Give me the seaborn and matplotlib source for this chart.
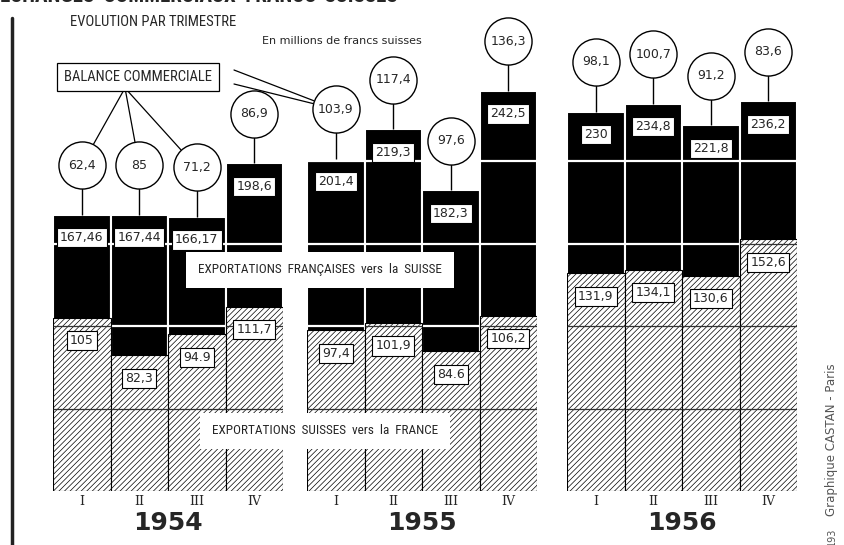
import numpy as np
import pandas as pd
import matplotlib
matplotlib.use("Agg")
import matplotlib.pyplot as plt
from matplotlib.lines import Line2D
from matplotlib import font_manager
import seaborn as sns

sns.set_style("white")
plt.rcParams['font.family'] = ['DejaVu Sans']
plt.rcParams['hatch.linewidth'] = 0.5
plt.rcParams['hatch.color'] = '#555555'

years = ['1954', '1955', '1956']
quarters = ['I', 'II', 'III', 'IV']

# exportations françaises vers la Suisse (millions de francs suisses)
fr_1954 = [167.46, 167.44, 166.17, 198.6]
fr_1955 = [201.4, 219.3, 182.3, 242.5]
fr_1956 = [230, 234.8, 221.8, 236.2]

# exportations suisses vers la France
ch_1954 = [105, 82.3, 94.9, 111.7]
ch_1955 = [97.4, 101.9, 84.6, 106.2]
ch_1956 = [131.9, 134.1, 130.6, 152.6]

# balance commerciale
bal_1954 = [62.4, 85, 71.2, 86.9]
bal_1955 = [103.9, 117.4, 97.6, 136.3]
bal_1956 = [98.1, 100.7, 91.2, 83.6]

fr_all = [fr_1954, fr_1955, fr_1956]
ch_all = [ch_1954, ch_1955, ch_1956]
bal_all = [bal_1954, bal_1955, bal_1956]

grid_levels = [50, 100, 150, 200, 250]

# narrowest font on hand for the capital headings
names = {f.name for f in font_manager.fontManager.ttflist}
narrow = 'DejaVu Sans'
for cand in ['Liberation Sans Narrow', 'Roboto Condensed', 'Open Sans Condensed', 'Roboto']:
    if cand in names:
        narrow = cand
        break


def fmt(v):
    if v in (94.9, 84.6):
        return f"{v:g}"
    return f"{v:g}".replace('.', ',')


W, H = 844, 545
fig = plt.figure(figsize=(W / 100, H / 100), dpi=100)

panel_left = [53, 307, 567]
panel_width = 230
base_px = 491
ymax = base_px / 1.65
circle_off = 30

axes = []
for k, year in enumerate(years):
    ax = fig.add_axes([panel_left[k] / W, (H - base_px) / H, panel_width / W, base_px / H])
    axes.append(ax)
    df = pd.DataFrame({'quarter': quarters, 'fr': fr_all[k], 'ch': ch_all[k], 'bal': bal_all[k]})

    sns.barplot(data=df, x='quarter', y='fr', color='black', saturation=1, width=1,
                edgecolor='white', linewidth=1.5, ax=ax)
    n_black = len(ax.patches)
    for lvl in grid_levels:
        ax.axhline(lvl, color='white', lw=1.6, zorder=1.5)

    sns.barplot(data=df, x='quarter', y='ch', color='white', saturation=1, width=1,
                edgecolor='black', linewidth=0.8, ax=ax)
    hatched = ax.patches[n_black:]
    for p in hatched:
        p.set_hatch('//////')
        p.set_zorder(2)

    black = ax.patches[:n_black]
    for i, (pb, ph) in enumerate(zip(black, hatched)):
        cx = pb.get_x() + pb.get_width() / 2
        x0, x1 = ph.get_x(), ph.get_x() + ph.get_width()
        for lvl in grid_levels:
            if lvl < df['ch'][i]:
                ax.hlines(lvl, x0, x1, color='#333333', lw=0.9, zorder=2.5)
        # value boxes
        box = dict(boxstyle='square,pad=0.25', fc='white', ec='black', lw=0.8)
        ax.text(cx, df['fr'][i] - 14, fmt(df['fr'][i]), ha='center', va='center',
                fontsize=9, bbox=box, zorder=5)
        ax.text(cx, df['ch'][i] - 14, fmt(df['ch'][i]), ha='center', va='center',
                fontsize=9, bbox=box, zorder=5)
        # balance circles
        cy = df['fr'][i] + circle_off
        ax.vlines(cx, df['fr'][i], cy, color='black', lw=1, zorder=3)
        ax.scatter([cx], [cy], s=1150, facecolor='white', edgecolor='black',
                   linewidth=1, zorder=6, clip_on=False)
        ax.text(cx, cy, fmt(df['bal'][i]), ha='center', va='center', fontsize=9, zorder=7)

    ax.set_xlim(-0.5, 3.5)
    ax.set_ylim(0, ymax)
    ax.set_xlabel('')
    ax.set_ylabel('')
    ax.set_yticks([])
    sns.despine(ax=ax, left=True, bottom=True)
    ax.tick_params(axis='x', length=0, pad=3)
    for lab in ax.get_xticklabels():
        lab.set_fontfamily('DejaVu Serif')
        lab.set_fontsize(9)
    ax.text(0.5, -0.066, year, transform=ax.transAxes, ha='center', va='center',
            fontsize=18, fontweight='bold')

# lines from the "BALANCE COMMERCIALE" box to the circles
ax1, ax2 = axes[0], axes[1]
for i, p in enumerate(ax1.patches[:3]):
    cx = p.get_x() + p.get_width() / 2
    ax1.annotate('', xy=(cx, fr_1954[i] + circle_off), xycoords='data',
                 xytext=(125 / W, 1 - 88 / H), textcoords='figure fraction',
                 arrowprops=dict(arrowstyle='-', color='black', lw=0.9, shrinkA=0, shrinkB=17))
p = ax2.patches[0]
cx = p.get_x() + p.get_width() / 2
for yy in (70, 84):
    ax2.annotate('', xy=(cx, fr_1955[0] + circle_off), xycoords='data',
                 xytext=(234 / W, 1 - yy / H), textcoords='figure fraction',
                 arrowprops=dict(arrowstyle='-', color='black', lw=0.9, shrinkA=0, shrinkB=17))

head = dict(family=narrow)
label_box = dict(boxstyle='square,pad=0.45', fc='white', ec='black', lw=0.9)
fig.text(138 / W, 1 - 77 / H, 'BALANCE COMMERCIALE', ha='center', va='center',
         fontsize=10.5, bbox=label_box, zorder=10, **head)
fig.text(320 / W, 1 - 270 / H, 'EXPORTATIONS  FRANÇAISES  vers  la  SUISSE', ha='center',
         va='center', fontsize=9.5, zorder=10,
         bbox=dict(boxstyle='square,pad=0.9', fc='white', ec='none'), **head)
fig.text(325 / W, 1 - 431 / H, 'EXPORTATIONS  SUISSES  vers  la  FRANCE', ha='center',
         va='center', fontsize=9.5, zorder=10,
         bbox=dict(boxstyle='square,pad=0.9', fc='white', ec='none'), **head)

# titles
fig.text(0.0, 1 + 4 / H, 'ECHANGES  COMMERCIAUX  FRANCO-SUISSES', ha='left', va='center',
         fontsize=15, fontweight='bold', **head)
fig.text(70 / W, 1 - 22 / H, 'EVOLUTION PAR TRIMESTRE', ha='left', va='center',
         fontsize=10.5, **head)
fig.text(262 / W, 1 - 41 / H, 'En millions de francs suisses', ha='left', va='center',
         fontsize=8)
fig.text(832 / W, 1 - 440 / H, 'Graphique CASTAN - Paris', rotation=90, ha='center',
         va='center', fontsize=8.5, color='#555555')
fig.text(832 / W, 1 - 537 / H, '193', rotation=90, ha='center', va='center',
         fontsize=7, color='#555555')

fig.add_artist(Line2D([12 / W, 12 / W], [0, 1 - 18 / H], color='#222222', lw=2.5))

fig.savefig('out.png', dpi=100)
